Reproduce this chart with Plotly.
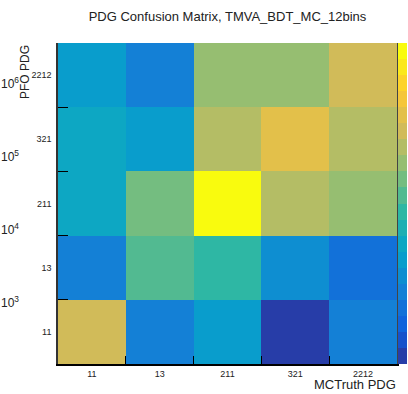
import numpy as np
import plotly.graph_objects as go

# ---- data ----
mc_truth_pdg = ["11", "13", "211", "321", "2212"]   # x categories
pfo_pdg = ["11", "13", "211", "321", "2212"]        # y categories (bottom -> top)

# counts per PFO PDG row, columns follow mc_truth_pdg
row_pfo_11 = [214000, 1080, 3110, 130, 1080]
row_pfo_13 = [1080, 25800, 15200, 1830, 637]
row_pfo_211 = [5280, 43700, 3920000, 126000, 74300]
row_pfo_321 = [5280, 3110, 126000, 363000, 126000]
row_pfo_2212 = [3110, 1080, 74300, 74300, 214000]

z_min = 100
z_max = 3920000
n_contours = 20
cbar_tickvals = [1e3, 1e4, 1e5, 1e6]
cbar_ticktext = ["10<sup>3</sup>", "10<sup>4</sup>", "10<sup>5</sup>", "10<sup>6</sup>"]

counts = np.array([row_pfo_11, row_pfo_13, row_pfo_211, row_pfo_321, row_pfo_2212], dtype=float)
logz = np.log10(counts)

# ---- ROOT kBird palette, quantised as ROOT does for 20 contours ----
stops = [0.0, 0.125, 0.25, 0.375, 0.5, 0.625, 0.75, 0.875, 1.0]
red = [0.2082, 0.0592, 0.0780, 0.0232, 0.1802, 0.5301, 0.8186, 0.9956, 0.9764]
green = [0.1664, 0.3599, 0.5041, 0.6419, 0.7178, 0.7492, 0.7328, 0.7862, 0.9832]
blue = [0.5293, 0.8684, 0.8385, 0.7914, 0.6425, 0.4662, 0.3499, 0.1968, 0.0539]

def bird(t):
    r = np.interp(t, stops, red)
    g = np.interp(t, stops, green)
    b = np.interp(t, stops, blue)
    return f"rgb({int(round(r*255))},{int(round(g*255))},{int(round(b*255))})"

colorscale = []
for i in range(n_contours):
    idx = int((i + 0.99) * 255 / n_contours)
    c = bird(min(idx, 254) / 254)
    colorscale.append([i / n_contours, c])
    colorscale.append([(i + 1) / n_contours, c])

W, H = 408, 394
PL, PR, PT, PB = 58, 397, 43, 364
FONT = "Liberation Sans, Arial, sans-serif"
ncat = len(mc_truth_pdg)

fig = go.Figure()
fig.add_trace(go.Heatmap(
    x=mc_truth_pdg, y=pfo_pdg, z=logz,
    zmin=np.log10(z_min), zmax=np.log10(z_max),
    colorscale=colorscale,
    colorbar=dict(
        x=(PR + 1) / W, xanchor="left", xpad=0, ypad=0,
        y=0.5, yanchor="middle", len=1, lenmode="fraction",
        thickness=9, outlinewidth=0,
        tickvals=list(np.log10(cbar_tickvals)), showticklabels=False,
        ticks="",
    ),
    hoverinfo="skip",
))
# empty helper traces so the extra axes are drawn
fig.add_trace(go.Scatter(x=[None], y=[None], yaxis="y2", showlegend=False, hoverinfo="skip"))
fig.add_trace(go.Scatter(x=[None], y=[None], yaxis="y3", showlegend=False, hoverinfo="skip"))

fig.update_layout(
    width=W, height=H,
    margin=dict(l=0, r=0, t=PT, b=H - PB),
    paper_bgcolor="white", plot_bgcolor="white",
    font=dict(family=FONT, color="black"),
    title=dict(text="PDG Confusion Matrix, TMVA_BDT_MC_12bins",
               x=(PL + PR) / 2 / W, xanchor="center",
               y=1 - 16 / H, yanchor="middle", yref="container",
               font=dict(size=13, family=FONT, color="#222")),
    xaxis=dict(domain=[PL / W, PR / W], type="category", automargin=False,
               categoryorder="array", categoryarray=mc_truth_pdg,
               range=[-0.5, ncat - 0.5],
               tickson="boundaries", ticks="inside", ticklen=8,
               tickcolor="black", tickwidth=1,
               showline=True, linecolor="black", linewidth=1.5,
               showgrid=False, zeroline=False,
               tickfont=dict(size=9, color="#222"), ticklabelstandoff=0),
    yaxis=dict(domain=[0, 1], type="category", automargin=False,
               categoryorder="array", categoryarray=pfo_pdg,
               range=[-0.5, ncat - 0.5],
               tickson="boundaries", ticks="inside", ticklen=10,
               tickcolor="black", tickwidth=1,
               showline=True, linecolor="#333", linewidth=1.5,
               showgrid=False, zeroline=False,
               tickfont=dict(size=9, color="#222"), ticklabelstandoff=3),
    yaxis2=dict(overlaying="y", side="right", anchor="x", automargin=False,
                range=[0, 1],
                showline=True, linecolor="#444", linewidth=1.5,
                ticks="", showticklabels=False, showgrid=False, zeroline=False),
    yaxis3=dict(overlaying="y", anchor="free", position=19 / W, side="left",
                automargin=False,
                type="log", range=[2.159, 6.562],
                tickvals=cbar_tickvals, ticktext=cbar_ticktext,
                showline=False, ticks="", showgrid=False, zeroline=False,
                tickfont=dict(size=12, color="#222")),
    annotations=[
        dict(text="MCTruth PDG", xref="paper", yref="paper",
             x=PR / W, xanchor="right", y=-(385 - PB) / (PB - PT), yanchor="middle",
             borderpad=0,
             showarrow=False, font=dict(size=13, family=FONT, color="#222")),
        dict(text="PFO PDG", xref="paper", yref="paper", textangle=-90,
             x=25 / W, xanchor="center", y=1, yanchor="top",
             showarrow=False, font=dict(size=12, family=FONT, color="#222")),
    ],
)

fig.write_html("out.html")
